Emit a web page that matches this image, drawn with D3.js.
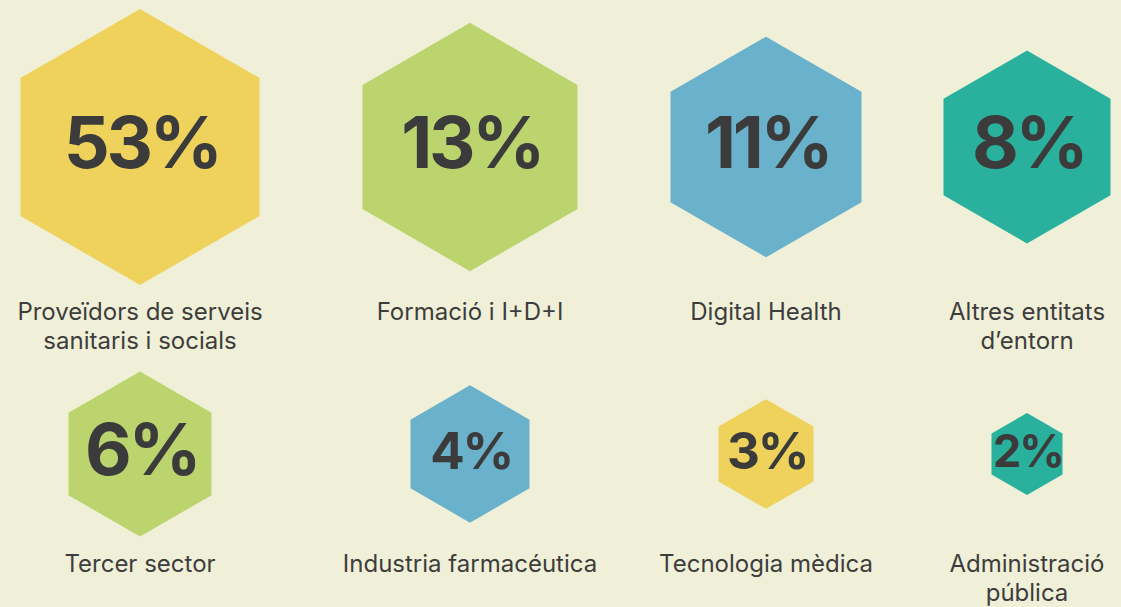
<!DOCTYPE html>
<html>
<head>
<meta charset="utf-8">
<script src="https://cdn.jsdelivr.net/npm/d3@7"></script>
<style>
  body { margin: 0; background: #f0f0d8; }
  svg { display: block; }
  .pct { font-family: Inter, "Noto Sans", sans-serif; font-weight: 700; fill: #3b3b3b; letter-spacing: -0.045em; }
  .label { font-family: Inter, "Noto Sans", sans-serif; font-weight: 400; fill: #3d3d3d; font-size: 24px; }
</style>
</head>
<body>
<script>
///////////////////   Data   /////////////////

var categories = [
  "Proveïdors de serveis\nsanitaris i socials",
  "Formació i I+D+I",
  "Digital Health",
  "Altres entitats\nd\u2019entorn",
  "Tercer sector",
  "Industria farmacéutica",
  "Tecnologia mèdica",
  "Administració\npública"
];
var values = [53, 13, 11, 8, 6, 4, 3, 2];

///////////////////   Parameters   /////////////////

var width = 1121,
    height = 607,
    perRow = 4,
    rowY = [147, 454],        // centre line of each row of hexagons
    labelGap = 35,            // from bottom of biggest hexagon to first label baseline
    lineHeight = 29;

var palette = {
  yellow: "#eed25c",
  green: "#bcd46e",
  blue: "#6ab1cc",
  teal: "#2ab19d"
};

////////////////   Scales   //////////////

// column centres (flex-like layout of the original page)
var colX = d3.scaleOrdinal().domain(d3.range(perRow)).range([140, 470, 766, 1027]);

// hexagon circumradius follows the rank of the value
var rank = d3.scaleOrdinal().domain(values.slice().sort(d3.descending)).range(d3.range(values.length));
var radius = d3.scaleLinear().domain([0, values.length - 1]).range([138, 41]);

// percentage font size
var fontSize = d3.scaleThreshold().domain([3, 5]).range([45, 51, 72]);

var color = d3.scaleOrdinal().domain(categories)
  .range([palette.yellow, palette.green, palette.blue, palette.teal,
          palette.green, palette.blue, palette.yellow, palette.teal]);

////////////////   Main rendering   //////////////

var data = categories.map(function(c, i) {
  return { name: c, value: values[i], row: Math.floor(i / perRow), col: i % perRow };
});

var svg = d3.select("body").append("svg")
  .attr("width", width)
  .attr("height", height);

var hexLine = d3.line().curve(d3.curveLinearClosed);

function hexPoints(r) {
  return d3.range(6).map(function(k) {
    var a = (Math.PI / 3) * k - Math.PI / 2;
    return [r * Math.cos(a), r * Math.sin(a)];
  });
}

// biggest radius of each row, to place the labels under it
var rowMax = d3.rollup(data, function(v) { return d3.max(v, function(d) { return radius(rank(d.value)); }); },
  function(d) { return d.row; });

var items = svg.selectAll("g.item")
  .data(data)
  .enter()
  .append("g")
    .attr("class", "item")
    .attr("transform", function(d) { return "translate(" + colX(d.col) + "," + rowY[d.row] + ")"; });

items.append("path")
  .attr("d", function(d) { return hexLine(hexPoints(radius(rank(d.value)))); })
  .attr("fill", function(d) { return color(d.name); });

// letter-spacing adds space after the last glyph too, so nudge right by half of it
items.append("text")
  .attr("class", "pct")
  .attr("text-anchor", "middle")
  .attr("x", function(d) { return fontSize(d.value) * 0.0225; })
  .attr("y", function(d) { return fontSize(d.value) * 0.29; })
  .style("font-size", function(d) { return fontSize(d.value) + "px"; })
  .text(function(d) { return d.value + "%"; });

var labels = items.append("text")
  .attr("class", "label")
  .attr("text-anchor", "middle");

labels.selectAll("tspan")
  .data(function(d) {
    return d.name.split("\n").map(function(line, j) {
      return { line: line, y: rowMax.get(d.row) + labelGap + j * lineHeight };
    });
  })
  .enter()
  .append("tspan")
    .attr("x", 0)
    .attr("y", function(t) { return t.y; })
    .text(function(t) { return t.line; });
</script>
</body>
</html>
